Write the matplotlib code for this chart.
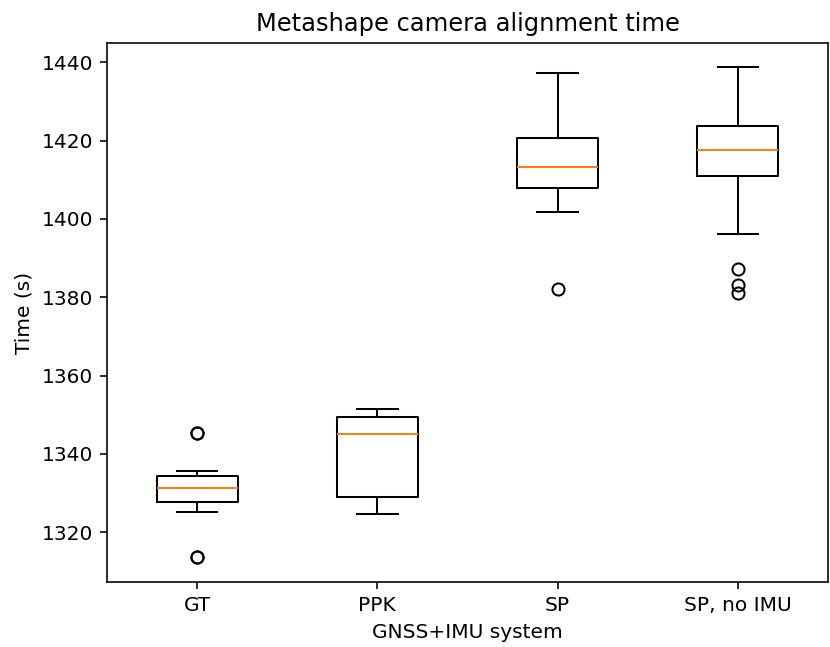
import matplotlib.pyplot as plt

labels = ['GT', 'PPK', 'SP', 'SP, no IMU']
medians = [1331.2, 1345.1, 1413.4, 1417.5]
q1 = [1327.8, 1328.9, 1407.9, 1411.0]
q3 = [1334.4, 1349.5, 1420.7, 1423.7]
whis_lo = [1325.0, 1324.6, 1401.7, 1396.2]
whis_hi = [1335.7, 1351.4, 1437.4, 1438.7]
fliers = [[1345.2, 1345.4, 1313.5, 1313.7], [], [1382.0],
          [1387.3, 1383.1, 1381.0]]

stats = []
for i, lab in enumerate(labels):
    stats.append({'label': lab, 'med': medians[i], 'q1': q1[i], 'q3': q3[i],
                  'whislo': whis_lo[i], 'whishi': whis_hi[i],
                  'fliers': fliers[i]})

dpi = 145
fig = plt.figure(figsize=(830 / dpi, 647 / dpi), dpi=dpi)
ax = fig.add_axes([107 / 830, 1 - 582 / 647, 721 / 830, 539 / 647])
ax.bxp(stats)
ax.set_title('Metashape camera alignment time')
ax.set_xlabel('GNSS+IMU system')
ax.set_ylabel('Time (s)')

fig.savefig('out.png', dpi=dpi)
